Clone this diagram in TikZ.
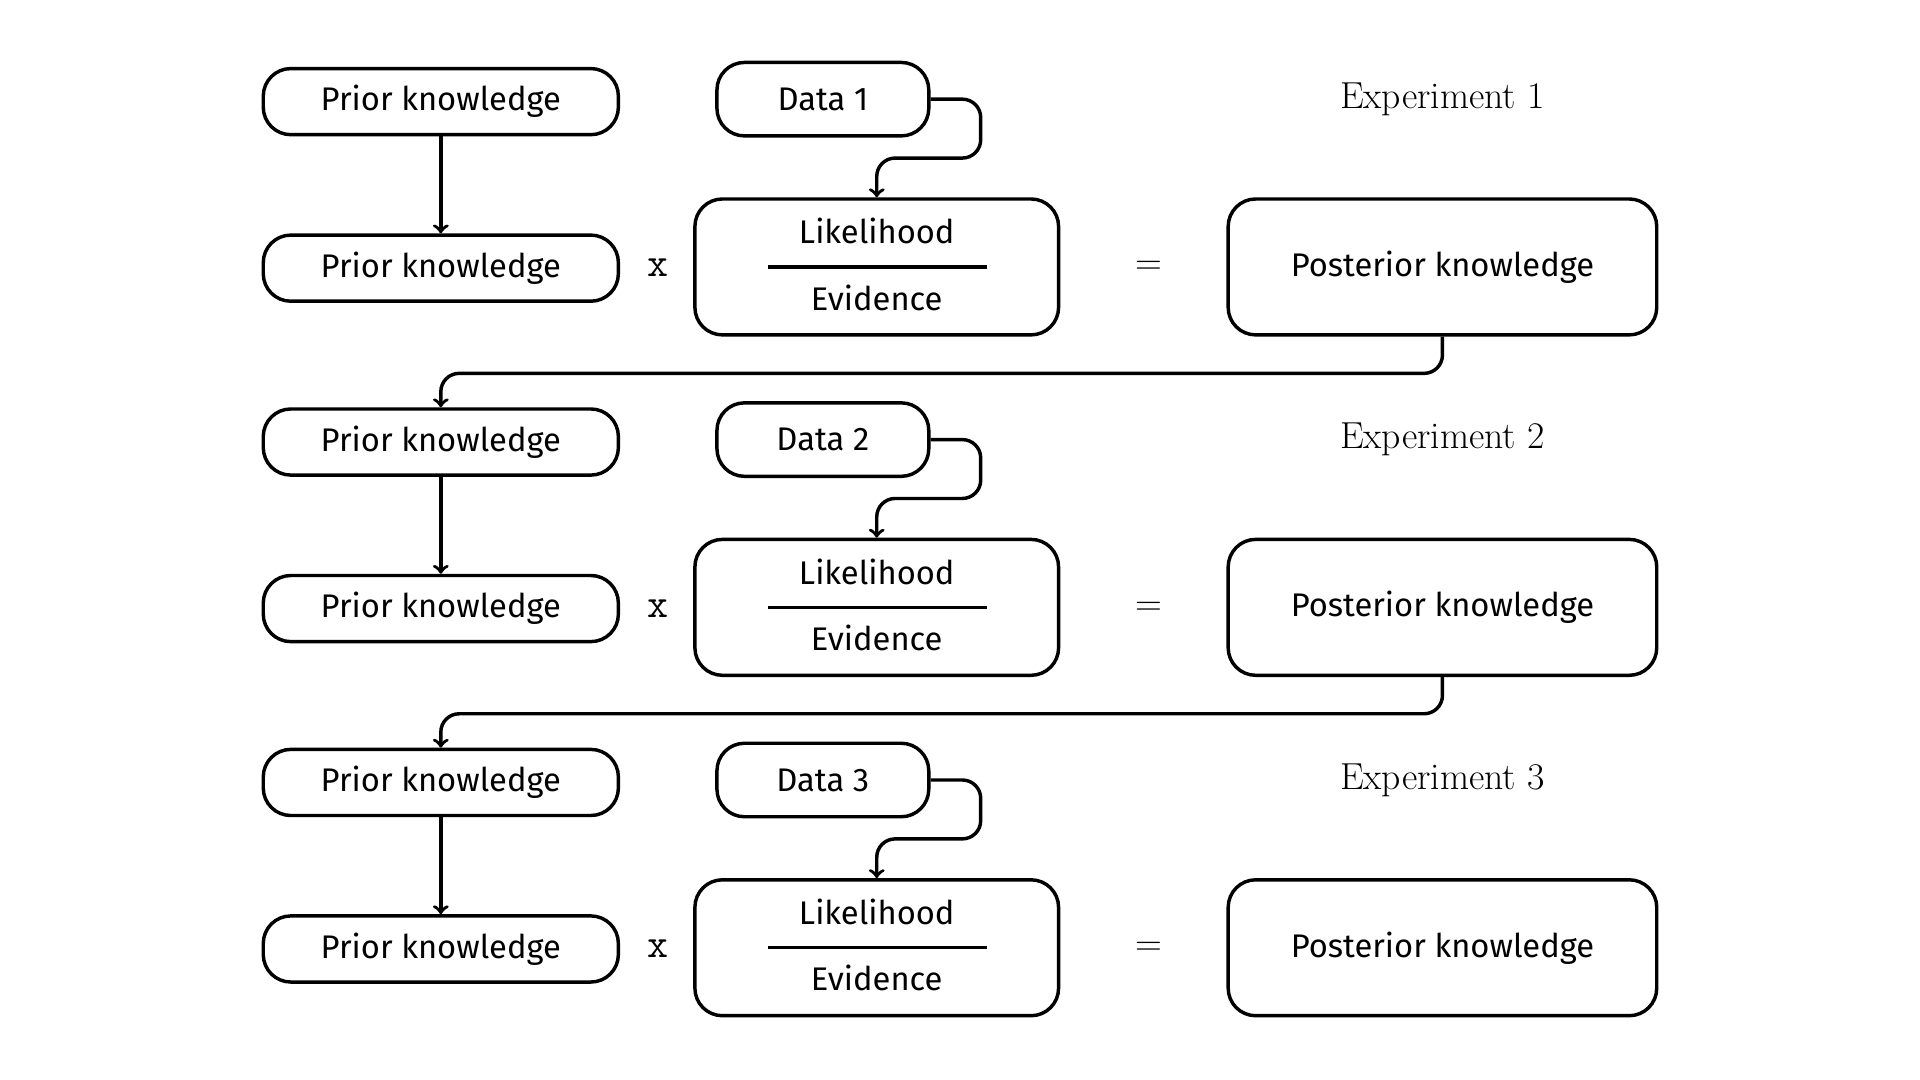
\documentclass[tikz,border=0pt]{standalone}
\usepackage{fontspec}
\setsansfont{Fira Sans}
\usetikzlibrary{calc}
\tikzset{
	pill/.style={draw, line width=1.6pt, rounded corners=4.5mm, minimum width=58mm, minimum height=10.8mm, inner sep=0pt, font=\sffamily\fontsize{15.2}{18}\selectfont},
	databox/.style={pill, minimum width=34.6mm, minimum height=12mm},
	fracbox/.style={draw, line width=1.6pt, rounded corners=4.5mm, minimum width=59.4mm, minimum height=22.2mm, inner sep=0pt},
	postbox/.style={fracbox, minimum width=70mm, font=\sffamily\fontsize{15.2}{18}\selectfont},
	word/.style={font=\sffamily\fontsize{15.2}{18}\selectfont},
	sign/.style={font=\fontsize{17.5}{21}\selectfont},
	flow/.style={->, line width=1.6pt, rounded corners=3mm},
}
\begin{document}
\begin{tikzpicture}[x=0.2mm, y=-0.2mm]
			%%%%% START %%%%%
			\useasboundingbox (0, 0) rectangle (1568, 882);
			
			% experiment 1
			\node[pill] (prior1a) at (360, 83) {Prior knowledge};
			\node[databox] (data1) at (672, 81) {Data 1};
			\node[sign] (exp1) at (1178, 81) {Experiment 1};
			\node[pill] (prior1b) at (360, 219) {Prior knowledge};
			\node[sign] (times1) at (537, 219) {\fontsize{19}{22}\selectfont\texttt{x}};
			\node[fracbox] (lik1) at (716, 218) {};
			\node[word] (num1) at (716, 189) {Likelihood};
			\node[word] (den1) at (716, 243) {Evidence};
			\node[sign] (eq1) at (938, 219) {$=$};
			\node[postbox] (post1) at (1178, 218) {Posterior knowledge};
			\draw[line width=1.6pt] ([xshift=-17.8mm]lik1.center) -- ([xshift=18mm]lik1.center);
			\draw[flow] (prior1a) -- (prior1b);
			\draw[flow] (data1.east) -- ++(41, 0) |- ($(lik1.north)+(0, -32)$) -- (lik1.north);
			
			% experiment 2
			\node[pill] (prior2a) at (360, 361) {Prior knowledge};
			\node[databox] (data2) at (672, 359) {Data 2};
			\node[sign] (exp2) at (1178, 359) {Experiment 2};
			\node[pill] (prior2b) at (360, 497) {Prior knowledge};
			\node[sign] (times2) at (537, 497) {\fontsize{19}{22}\selectfont\texttt{x}};
			\node[fracbox] (lik2) at (716, 496) {};
			\node[word] (num2) at (716, 467) {Likelihood};
			\node[word] (den2) at (716, 521) {Evidence};
			\node[sign] (eq2) at (938, 497) {$=$};
			\node[postbox] (post2) at (1178, 496) {Posterior knowledge};
			\draw[line width=1.6pt] ([xshift=-17.8mm]lik2.center) -- ([xshift=18mm]lik2.center);
			\draw[flow] (prior2a) -- (prior2b);
			\draw[flow] (data2.east) -- ++(41, 0) |- ($(lik2.north)+(0, -32)$) -- (lik2.north);
			
			% experiment 3
			\node[pill] (prior3a) at (360, 639) {Prior knowledge};
			\node[databox] (data3) at (672, 637) {Data 3};
			\node[sign] (exp3) at (1178, 637) {Experiment 3};
			\node[pill] (prior3b) at (360, 775) {Prior knowledge};
			\node[sign] (times3) at (537, 775) {\fontsize{19}{22}\selectfont\texttt{x}};
			\node[fracbox] (lik3) at (716, 774) {};
			\node[word] (num3) at (716, 745) {Likelihood};
			\node[word] (den3) at (716, 799) {Evidence};
			\node[sign] (eq3) at (938, 775) {$=$};
			\node[postbox] (post3) at (1178, 774) {Posterior knowledge};
			\draw[line width=1.6pt] ([xshift=-17.8mm]lik3.center) -- ([xshift=18mm]lik3.center);
			\draw[flow] (prior3a) -- (prior3b);
			\draw[flow] (data3.east) -- ++(41, 0) |- ($(lik3.north)+(0, -32)$) -- (lik3.north);
			
			% posterior becomes the next prior
			\draw[flow] (post1.south) -- ++(0, 30) -| (prior2a.north);
			\draw[flow] (post2.south) -- ++(0, 30) -| (prior3a.north);
			
			%%%%% END %%%%%
		\end{tikzpicture}
\end{document}
